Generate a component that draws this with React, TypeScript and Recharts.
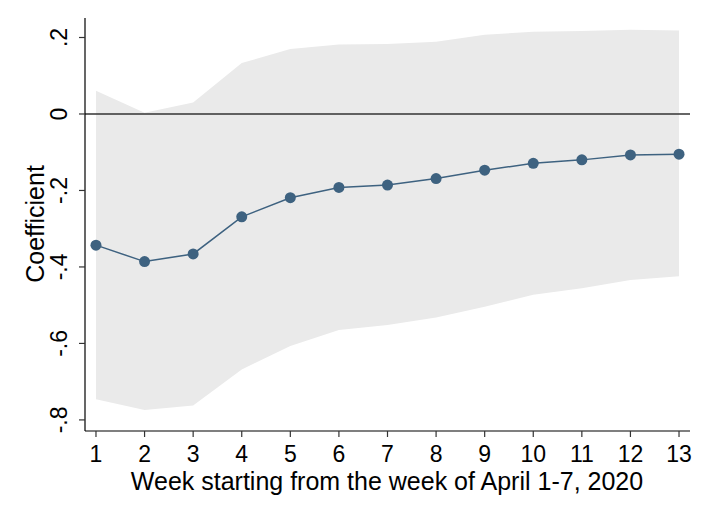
import React from 'react';
import {
  ComposedChart,
  Area,
  Line,
  XAxis,
  YAxis,
  ReferenceLine,
} from 'recharts';

const weeks = [1, 2, 3, 4, 5, 6, 7, 8, 9, 10, 11, 12, 13];
const coef = [-0.343, -0.386, -0.366, -0.269, -0.219, -0.192, -0.186, -0.169, -0.147, -0.129, -0.12, -0.107, -0.105];
const upper = [0.061, 0.003, 0.03, 0.133, 0.17, 0.182, 0.183, 0.189, 0.207, 0.215, 0.217, 0.22, 0.218];
const lower = [-0.746, -0.774, -0.762, -0.668, -0.607, -0.565, -0.552, -0.532, -0.504, -0.473, -0.456, -0.434, -0.424];
const yTicks = [-0.8, -0.6, -0.4, -0.2, 0, 0.2];

const data = weeks.map((w, i) => ({
  week: w,
  coef: coef[i],
  band: [lower[i], upper[i]],
}));

const FONT = 'Arial, "Liberation Sans", sans-serif';
const tickStyle = { fontSize: 23, fontFamily: FONT, fill: '#000' };
const titleStyle = { fontSize: 25, fontFamily: FONT, fill: '#000' };

const fmt = (v: number) => {
  if (v === 0) return '0';
  const s = Math.abs(v).toFixed(1).replace(/^0/, '');
  return v < 0 ? '-' + s : s;
};

const YTick = (props: any) => {
  const { x, y, payload } = props;
  const cx = x - 18;
  return (
    <text
      x={cx}
      y={y}
      transform={`rotate(-90 ${cx} ${y})`}
      textAnchor="middle"
      dominantBaseline="central"
      style={tickStyle}
    >
      {fmt(payload.value)}
    </text>
  );
};

const XTick = (props: any) => {
  const { x, y, payload } = props;
  return (
    <text x={x} y={y + 23} textAnchor="middle" style={tickStyle}>
      {payload.value}
    </text>
  );
};

const App = () => {
  return (
    <div style={{ position: 'absolute', left: 0, top: 0, width: 709, height: 516, background: '#fff' }}>
      <ComposedChart
        width={709}
        height={516}
        data={data}
        margin={{ top: 18, right: 19, bottom: 0, left: 0 }}
      >
        <XAxis
          dataKey="week"
          type="number"
          domain={[0.774, 13.226]}
          ticks={weeks}
          interval={0}
          height={85}
          tickSize={6}
          axisLine={{ stroke: '#000', strokeWidth: 1.2 }}
          tickLine={{ stroke: '#333', strokeWidth: 1.2 }}
          tick={<XTick />}
        />
        <YAxis
          type="number"
          domain={[-0.829, 0.251]}
          ticks={yTicks}
          allowDataOverflow
          width={85}
          tickSize={6}
          axisLine={{ stroke: '#000', strokeWidth: 1.2 }}
          tickLine={{ stroke: '#333', strokeWidth: 1.2 }}
          tick={<YTick />}
        />
        <Area
          dataKey="band"
          type="linear"
          stroke="none"
          fill="#eaeaea"
          fillOpacity={1}
          isAnimationActive={false}
        />
        <ReferenceLine y={0} stroke="#333" strokeWidth={1.5} />
        <Line
          dataKey="coef"
          type="linear"
          stroke="#3e6280"
          strokeWidth={1.5}
          dot={{ r: 5.5, fill: '#3e6280', stroke: '#3e6280', strokeWidth: 0 }}
          activeDot={false}
          isAnimationActive={false}
        />
        <text
          x={35}
          y={224}
          transform="rotate(-90 35 224)"
          textAnchor="middle"
          dominantBaseline="central"
          style={titleStyle}
        >
          Coefficient
        </text>
        <text x={387} y={490} textAnchor="middle" style={titleStyle}>
          Week starting from the week of April 1-7, 2020
        </text>
      </ComposedChart>
    </div>
  );
};

export default App;
